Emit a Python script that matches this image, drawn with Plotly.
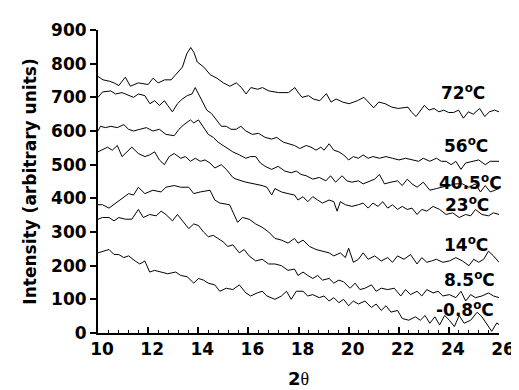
import plotly.graph_objects as go

# ---- data (2theta, intensity) ----
x_72 = [10.0, 10.2, 10.45, 10.64, 10.83, 11.09, 11.29, 11.61, 12.0, 12.2, 12.4, 12.66, 12.92, 13.11, 13.37, 13.54, 13.7, 13.83, 13.96, 14.22, 14.48, 14.74, 15.0, 15.26, 15.52, 15.72, 15.91, 16.1, 16.37, 16.56, 16.82, 17.21, 17.6, 17.86, 17.94, 18.14, 18.4, 18.59, 18.85, 19.11, 19.3, 19.5, 19.76, 20.02, 20.35, 20.61, 20.8, 21.0, 21.2, 21.46, 21.72, 21.98, 22.37, 22.5, 22.69, 22.89, 23.02, 23.21, 23.41, 23.6, 23.8, 23.99, 24.19, 24.39, 24.58, 24.78, 24.97, 25.23, 25.43, 25.62, 25.82, 26.0]
y_72 = [762, 752, 748, 743, 735, 760, 733, 743, 738, 757, 743, 752, 752, 767, 790, 829, 848, 833, 805, 790, 767, 757, 743, 733, 743, 729, 710, 729, 724, 729, 719, 714, 714, 729, 719, 700, 705, 695, 690, 711, 686, 695, 686, 681, 690, 700, 686, 669, 686, 681, 671, 667, 671, 657, 643, 662, 676, 662, 667, 657, 662, 655, 655, 662, 638, 657, 650, 667, 643, 657, 662, 657]

x_56 = [10.0, 10.18, 10.51, 10.7, 10.96, 11.22, 11.42, 11.61, 11.87, 12.07, 12.26, 12.45, 12.65, 12.78, 12.97, 13.17, 13.36, 13.56, 13.75, 13.88, 14.01, 14.14, 14.34, 14.53, 14.73, 14.92, 15.12, 15.31, 15.51, 15.7, 15.9, 16.16, 16.41, 16.67, 16.93, 17.13, 17.39, 17.65, 17.84, 18.05, 18.31, 18.5, 18.7, 18.89, 19.02, 19.22, 19.41, 19.61, 19.8, 20.0, 20.19, 20.39, 20.58, 20.78, 20.97, 21.23, 21.49, 21.75, 22.01, 22.27, 22.53, 22.79, 22.98, 23.24, 23.5, 23.7, 23.89, 24.09, 24.28, 24.48, 24.67, 24.93, 25.19, 25.45, 25.65, 26.0]
y_56 = [700, 716, 719, 710, 714, 705, 700, 710, 705, 681, 690, 676, 690, 676, 657, 681, 695, 705, 710, 729, 710, 690, 662, 652, 633, 614, 614, 605, 605, 614, 600, 590, 593, 581, 576, 581, 567, 562, 557, 548, 557, 552, 543, 552, 543, 562, 543, 538, 529, 514, 524, 519, 529, 519, 524, 519, 524, 519, 514, 519, 514, 510, 519, 510, 519, 510, 510, 500, 510, 486, 505, 510, 514, 500, 510, 510]

x_405 = [10.0, 10.1, 10.3, 10.51, 10.77, 11.03, 11.22, 11.42, 11.67, 11.93, 12.19, 12.45, 12.71, 13.04, 13.23, 13.43, 13.69, 13.82, 14.01, 14.21, 14.4, 14.6, 14.79, 14.99, 15.18, 15.38, 15.64, 15.9, 16.09, 16.29, 16.48, 16.67, 16.93, 17.19, 17.45, 17.71, 17.91, 18.1, 18.31, 18.57, 18.83, 19.09, 19.28, 19.48, 19.74, 19.93, 20.13, 20.39, 20.58, 20.84, 21.04, 21.23, 21.43, 21.69, 21.95, 22.14, 22.34, 22.53, 22.73, 22.98, 23.24, 23.5, 23.76, 24.02, 24.28, 24.54, 24.8, 25.06, 25.26, 25.45, 25.65, 26.0]
y_405 = [600, 614, 610, 614, 610, 619, 605, 600, 605, 610, 600, 605, 590, 586, 605, 619, 633, 624, 633, 610, 590, 581, 567, 557, 548, 538, 529, 519, 524, 524, 505, 495, 486, 495, 481, 476, 481, 471, 467, 457, 462, 452, 467, 448, 467, 452, 448, 452, 443, 452, 457, 471, 443, 448, 452, 438, 457, 443, 433, 448, 424, 429, 433, 438, 443, 443, 433, 443, 419, 438, 419, 429]

x_23 = [10.0, 10.12, 10.38, 10.57, 10.77, 10.96, 11.16, 11.35, 11.61, 11.87, 12.06, 12.26, 12.45, 12.65, 12.84, 13.04, 13.3, 13.49, 13.69, 13.88, 14.08, 14.27, 14.47, 14.66, 14.92, 15.12, 15.38, 15.51, 15.9, 16.29, 16.55, 16.74, 16.93, 17.06, 17.32, 17.58, 17.84, 17.98, 18.18, 18.37, 18.57, 18.76, 18.96, 19.22, 19.41, 19.54, 19.67, 19.87, 20.13, 20.39, 20.58, 20.78, 20.97, 21.17, 21.36, 21.56, 21.75, 21.95, 22.14, 22.34, 22.53, 22.73, 22.92, 23.12, 23.37, 23.63, 23.89, 24.15, 24.41, 24.67, 24.87, 25.06, 25.32, 25.58, 25.78, 26.0]
y_23 = [538, 543, 552, 543, 557, 524, 538, 552, 533, 524, 529, 538, 514, 500, 524, 533, 519, 524, 510, 519, 510, 514, 505, 490, 500, 486, 462, 457, 448, 443, 438, 433, 410, 429, 419, 414, 410, 395, 405, 390, 405, 395, 386, 395, 390, 362, 390, 381, 376, 381, 386, 371, 386, 376, 390, 371, 381, 367, 376, 367, 371, 352, 367, 362, 376, 367, 352, 357, 343, 352, 348, 367, 352, 348, 357, 352]

x_14 = [10.0, 10.18, 10.44, 10.7, 10.96, 11.22, 11.42, 11.61, 11.87, 12.19, 12.52, 12.71, 13.04, 13.3, 13.62, 13.82, 14.08, 14.47, 14.66, 14.86, 15.25, 15.57, 15.77, 16.03, 16.29, 16.55, 16.81, 17.06, 17.32, 17.58, 17.84, 17.98, 18.18, 18.44, 18.7, 18.96, 19.22, 19.41, 19.67, 19.87, 20.0, 20.19, 20.39, 20.58, 20.78, 21.04, 21.3, 21.56, 21.75, 21.95, 22.21, 22.47, 22.73, 22.92, 23.12, 23.31, 23.5, 23.76, 24.02, 24.28, 24.54, 24.8, 24.99, 25.19, 25.39, 25.58, 25.78, 26.0]
y_14 = [381, 381, 371, 386, 400, 414, 410, 433, 414, 424, 419, 433, 438, 433, 433, 414, 419, 424, 395, 386, 381, 329, 343, 338, 324, 314, 300, 281, 276, 267, 281, 267, 276, 257, 248, 243, 238, 229, 238, 224, 252, 210, 219, 238, 219, 229, 214, 224, 210, 229, 219, 233, 205, 224, 210, 214, 219, 210, 214, 224, 214, 200, 219, 210, 219, 243, 229, 210]

x_85 = [10.0, 10.18, 10.44, 10.64, 10.83, 11.09, 11.35, 11.61, 11.81, 12.06, 12.32, 12.52, 12.71, 12.97, 13.17, 13.36, 13.62, 13.82, 14.01, 14.21, 14.4, 14.6, 14.79, 14.99, 15.18, 15.38, 15.64, 15.83, 16.03, 16.29, 16.55, 16.81, 17.06, 17.32, 17.58, 17.84, 17.98, 18.18, 18.37, 18.57, 18.76, 18.96, 19.22, 19.41, 19.61, 19.8, 20.06, 20.26, 20.45, 20.65, 20.91, 21.1, 21.3, 21.56, 21.82, 22.08, 22.27, 22.47, 22.73, 22.92, 23.12, 23.37, 23.57, 23.76, 24.02, 24.28, 24.48, 24.67, 24.87, 25.06, 25.32, 25.58, 25.78, 26.0]
y_85 = [338, 343, 343, 333, 343, 338, 338, 367, 343, 352, 348, 362, 352, 333, 352, 333, 310, 324, 319, 300, 286, 290, 281, 271, 257, 262, 238, 248, 229, 214, 219, 205, 205, 200, 186, 190, 171, 181, 171, 162, 171, 157, 162, 148, 157, 152, 133, 148, 129, 133, 143, 124, 133, 129, 133, 110, 129, 114, 124, 110, 129, 119, 124, 110, 114, 105, 124, 95, 114, 105, 110, 119, 110, 105]

x_m08 = [10.0, 10.18, 10.44, 10.64, 10.83, 11.03, 11.22, 11.48, 11.67, 11.87, 12.06, 12.26, 12.52, 12.78, 13.1, 13.3, 13.56, 13.82, 14.01, 14.21, 14.4, 14.66, 14.86, 15.12, 15.38, 15.64, 15.9, 16.09, 16.35, 16.55, 16.74, 17.06, 17.32, 17.52, 17.71, 17.91, 18.18, 18.37, 18.57, 18.83, 19.02, 19.22, 19.41, 19.61, 19.8, 20.0, 20.19, 20.39, 20.65, 20.91, 21.1, 21.3, 21.49, 21.69, 21.95, 22.14, 22.4, 22.66, 22.86, 23.05, 23.24, 23.44, 23.63, 23.83, 24.02, 24.22, 24.41, 24.61, 24.87, 25.13, 25.32, 25.52, 25.71, 25.91, 26.0]
y_m08 = [238, 243, 248, 233, 233, 224, 229, 214, 205, 214, 181, 186, 181, 176, 181, 171, 167, 148, 162, 157, 148, 143, 124, 133, 129, 143, 119, 110, 119, 124, 110, 100, 110, 124, 100, 124, 124, 110, 114, 105, 110, 95, 105, 90, 100, 81, 95, 86, 95, 76, 86, 67, 81, 62, 67, 43, 38, 48, 38, 52, 29, 48, 24, 52, 38, 19, 52, 29, 38, 62, 48, 24, 5, 30, 25]

series = [(x_72, y_72), (x_56, y_56), (x_405, y_405), (x_23, y_23),
          (x_14, y_14), (x_85, y_85), (x_m08, y_m08)]

# curve labels and their anchor positions (data coords)
label_text = ["72", "56", "40.5", "23", "14", "8.5", "-0.8"]
label_x = [24.57, 24.69, 24.88, 24.71, 24.69, 24.84, 24.63]
label_y = [717, 559, 450, 384, 264, 159, 71]

x_ticks = [10, 12, 14, 16, 18, 20, 22, 24, 26]
y_ticks = [0, 100, 200, 300, 400, 500, 600, 700, 800, 900]

FONT = "DejaVu Sans"

fig = go.Figure()
for xs, ys in series:
    fig.add_trace(go.Scatter(x=xs, y=ys, mode="lines",
                             line=dict(color="black", width=1),
                             showlegend=False, hoverinfo="skip"))

for t, lx, ly in zip(label_text, label_x, label_y):
    fig.add_annotation(x=lx, y=ly, xref="x", yref="y", showarrow=False,
                       text="<b>" + t + "<sup>o</sup>C</b>",
                       font=dict(family=FONT, size=17, color="black"))

fig.update_layout(
    width=519, height=390,
    margin=dict(l=90, r=19, t=20, b=55),
    paper_bgcolor="white", plot_bgcolor="white",
    font=dict(family=FONT, color="black"),
)

fig.update_xaxes(
    range=[10, 26], tickvals=x_ticks, ticktext=["<b>%d</b>" % v for v in x_ticks],
    ticks="inside", ticklen=6, tickwidth=1.5, tickcolor="black",
    ticklabelshift=4,
    minor=dict(dtick=0.4, ticks="inside", ticklen=3, tickwidth=1, tickcolor="black"),
    showline=True, linecolor="black", linewidth=2,
    showgrid=False, zeroline=False,
    tickfont=dict(family=FONT, size=17, color="black"),
    title=dict(text="<b>2</b><span style='font-family:Liberation Serif'>θ</span>",
               font=dict(family=FONT, size=18, color="black"), standoff=14),
)
fig.update_yaxes(
    range=[0, 900], tickvals=y_ticks, ticktext=["<b>%d</b>" % v for v in y_ticks],
    ticks="outside", ticklen=6, tickwidth=1.5, tickcolor="black",
    showline=True, linecolor="black", linewidth=2,
    showgrid=False, zeroline=False,
    tickfont=dict(family=FONT, size=17, color="black"),
    title=dict(text="<b>Intensity (arbitrary units)</b>",
               font=dict(family=FONT, size=17, color="black"), standoff=10),
)

fig.write_html("out.html")
